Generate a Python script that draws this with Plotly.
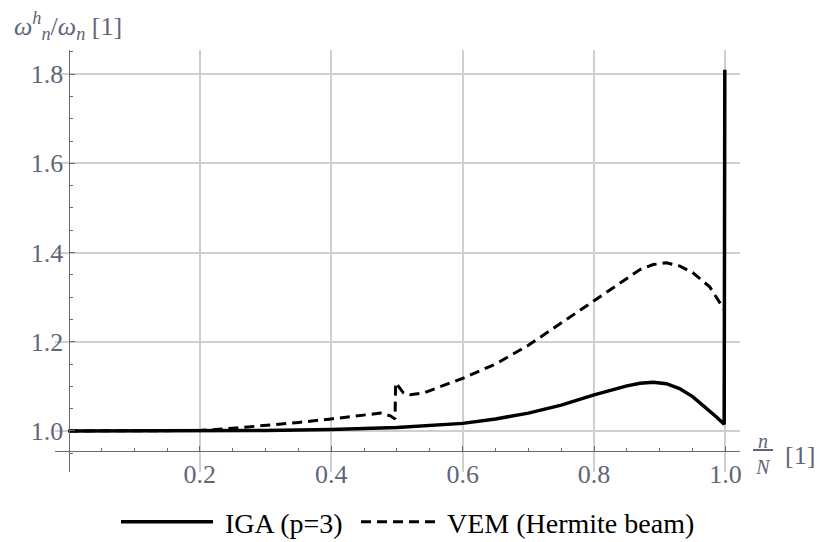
import plotly.graph_objects as go

# ---- data ----
iga_x = [0.0, 0.1, 0.2, 0.3, 0.4, 0.5, 0.6, 0.65, 0.7, 0.75, 0.8, 0.825, 0.85, 0.87,
         0.89, 0.91, 0.93, 0.95, 0.97, 0.985, 0.998, 0.999]
iga_y = [1.0, 1.0, 1.0, 1.001, 1.003, 1.008, 1.017, 1.027, 1.040, 1.058, 1.081, 1.092,
         1.101, 1.107, 1.109, 1.106, 1.095, 1.077, 1.053, 1.033, 1.015, 1.81]

vem_x = [0.0, 0.1, 0.2, 0.25, 0.3, 0.35, 0.4, 0.45, 0.475, 0.49, 0.497, 0.498, 0.51,
         0.52, 0.54, 0.6, 0.65, 0.7, 0.75, 0.8, 0.85, 0.87, 0.89, 0.91, 0.93, 0.95,
         0.976, 0.995, 0.999]
vem_y = [1.0, 1.0, 1.001, 1.006, 1.012, 1.019, 1.027, 1.036, 1.040, 1.034, 1.027, 1.108,
         1.085, 1.081, 1.085, 1.118, 1.150, 1.192, 1.242, 1.294, 1.343, 1.362, 1.373,
         1.377, 1.370, 1.355, 1.323, 1.279, 1.27]

series_names = ["IGA (p=3)", "VEM (Hermite beam)"]

x_major = [0.2, 0.4, 0.6, 0.8, 1.0]
x_major_text = ["0.2", "0.4", "0.6", "0.8", "1.0"]
x_minor = [0.05, 0.1, 0.15, 0.25, 0.3, 0.35, 0.45, 0.5, 0.55, 0.65, 0.7, 0.75, 0.85, 0.9, 0.95]
y_major = [1.0, 1.2, 1.4, 1.6, 1.8]
y_major_text = ["1.0", "1.2", "1.4", "1.6", "1.8"]
y_minor = [0.95, 1.05, 1.1, 1.15, 1.25, 1.3, 1.35, 1.45, 1.5, 1.55, 1.65, 1.7, 1.75, 1.85]

# ---- figure ----
W, H = 822, 542
OFF = 8  # page body margin
pw, ph = 685, 422
ml = 55 - OFF
mt = 50 - OFF
mr = W - ml - pw
mb = H - mt - ph
TICKCOL = "#5f6677"
AXCOL = "#6a6a6a"
GRIDCOL = "#cfcfcf"
SERIF = "Liberation Serif"
PAD = "\u00a0"


def px(xs):  # screen x pixel -> paper
    return (xs - 55) / pw


def py(ys):  # screen y pixel -> paper
    return (472 - ys) / ph


fig = go.Figure()
fig.add_trace(go.Scatter(x=iga_x, y=iga_y, mode="lines", name=PAD + series_names[0],
                         line=dict(color="black", width=3.5), legend="legend"))
fig.add_trace(go.Scatter(x=vem_x, y=vem_y, mode="lines", name=PAD + series_names[1],
                         line=dict(color="black", width=3, dash="10px,6px"), legend="legend2"))

leg_common = dict(orientation="h", xanchor="left", yanchor="middle", y=py(522),
                  font=dict(family=SERIF, size=28, color="black"),
                  bgcolor="rgba(0,0,0,0)")

fig.update_layout(
    width=W, height=H,
    margin=dict(l=ml, r=mr, t=mt, b=mb, autoexpand=False),
    plot_bgcolor="white", paper_bgcolor="white",
    font=dict(family=SERIF, size=26, color=TICKCOL),
    showlegend=True,
    legend=dict(x=px(116), itemwidth=92, **leg_common),
    legend2=dict(x=px(356), itemwidth=74, **leg_common),
    xaxis=dict(range=[-0.0205, 1.0221], anchor="free", position=py(451),
               showline=True, linecolor=AXCOL, linewidth=1.3, zeroline=False,
               tickmode="array", tickvals=x_major, ticktext=x_major_text,
               ticks="inside", ticklen=5, tickcolor=AXCOL, tickwidth=1.3,
               showgrid=True, gridcolor=GRIDCOL, gridwidth=1.5,
               tickfont=dict(family=SERIF, size=26, color=TICKCOL),
               minor=dict(tickmode="array", tickvals=x_minor, ticks="inside", ticklen=3,
                          tickcolor=AXCOL, tickwidth=1.2, showgrid=False)),
    yaxis=dict(range=[0.908, 1.854], anchor="free", position=px(68.5),
               showline=True, linecolor=AXCOL, linewidth=1.3, zeroline=False,
               tickmode="array", tickvals=y_major, ticktext=y_major_text,
               ticks="inside", ticklen=5, tickcolor=AXCOL, tickwidth=1.3,
               showgrid=True, gridcolor=GRIDCOL, gridwidth=1.5,
               tickfont=dict(family=SERIF, size=26, color=TICKCOL),
               minor=dict(tickmode="array", tickvals=y_minor, ticks="inside", ticklen=3,
                          tickcolor=AXCOL, tickwidth=1.2, showgrid=False)),
)

# axis labels
fig.add_annotation(xref="paper", yref="paper", x=px(12), y=py(26),
                   xanchor="left", yanchor="middle", showarrow=False,
                   text="<i>ω</i><sup><i>h</i></sup><sub><i>n</i></sub>/<i>ω</i><sub><i>n</i></sub> [1]",
                   font=dict(family=SERIF, size=26, color=TICKCOL))
fig.add_annotation(xref="paper", yref="paper", x=px(763), y=py(454),
                   xanchor="center", yanchor="middle", showarrow=False,
                   text="<u>&nbsp;<i>n</i>&nbsp;</u><br><i>N</i>",
                   font=dict(family=SERIF, size=20, color=TICKCOL))
fig.add_annotation(xref="paper", yref="paper", x=px(783), y=py(455),
                   xanchor="left", yanchor="middle", showarrow=False,
                   text="[1]", font=dict(family=SERIF, size=26, color=TICKCOL))

fig.write_html("out.html")
